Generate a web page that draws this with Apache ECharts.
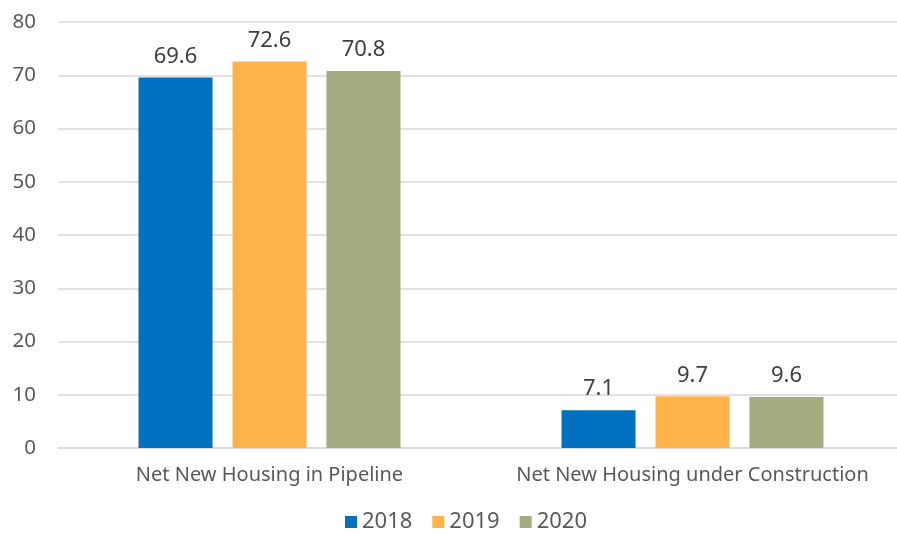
<!DOCTYPE html>
<html><head><meta charset="utf-8">
<script src="https://cdn.jsdelivr.net/npm/echarts@6/dist/echarts.min.js"></script>
<style>html,body{margin:0;padding:0;background:#fff}#c{width:897px;height:534px}</style>
</head><body><div id="c"></div>
<script>
const categories = ['Net New Housing in Pipeline', 'Net New Housing under Construction'];
const seriesNames = ['2018', '2019', '2020'];
const values2018 = [69.6, 7.1];
const values2019 = [72.6, 9.7];
const values2020 = [70.8, 9.6];
const colors = ['#0070C0', '#FFB248', '#A5AA80'];
const FONT = '"Noto Sans", sans-serif';
const chart = echarts.init(document.getElementById('c'));
const data = [values2018, values2019, values2020];
chart.setOption({
  animation: false,
  textStyle: {fontFamily: FONT},
  grid: {left: 58, width: 846, top: 22, bottom: 86, containLabel: false, outerBoundsMode: 'none'},
  legend: {
    top: 511, left: 345, padding: 0,
    itemWidth: 12, itemHeight: 12, itemGap: 20,
    icon: 'rect',
    textStyle: {color: '#595959', fontSize: 22, fontFamily: FONT},
    data: seriesNames
  },
  xAxis: {
    type: 'category', data: categories,
    axisLine: {lineStyle: {color: '#d9d9d9', width: 1.5}},
    axisTick: {show: false},
    axisLabel: {color: '#595959', fontSize: 20, margin: 17, fontFamily: FONT, interval: 0, hideOverlap: false}
  },
  yAxis: {
    type: 'value', min: 0, max: 80, interval: 10,
    axisLine: {show: false}, axisTick: {show: false},
    splitLine: {lineStyle: {color: '#d9d9d9', width: 1.5}},
    axisLabel: {color: '#595959', fontSize: 20.5, margin: 22, fontFamily: FONT}
  },
  series: seriesNames.map((n, i) => ({
    name: n, type: 'bar', data: data[i],
    barWidth: 74, barGap: '27%', barCategoryGap: '38%',
    itemStyle: {color: colors[i]},
    label: {show: true, position: 'top', distance: 10, color: '#404040', fontSize: 22, fontFamily: FONT,
      formatter: p => p.value.toFixed(1)}
  }))
});
</script></body></html>
